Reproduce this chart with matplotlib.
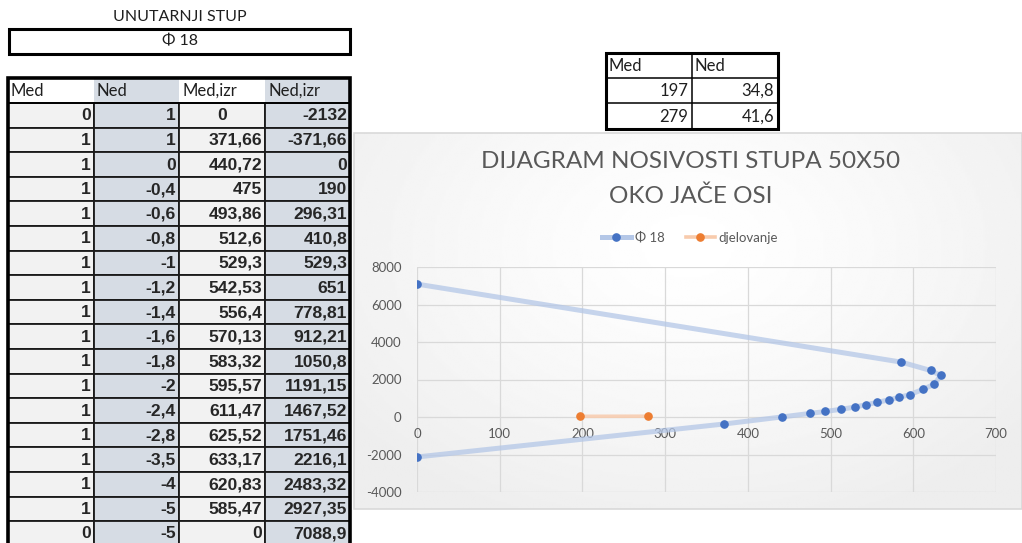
import numpy as np
import matplotlib.pyplot as plt
from matplotlib.patches import Rectangle
from matplotlib.lines import Line2D

# interakcijski dijagram, unutarnji stup, armatura fi 18
med = [0, 1, 1, 1, 1, 1, 1, 1, 1, 1, 1, 1, 1, 1, 1, 1, 1, 0]
ned = [1, 1, 0, -0.4, -0.6, -0.8, -1, -1.2, -1.4, -1.6, -1.8, -2, -2.4, -2.8, -3.5, -4, -5, -5]
med_izr = [0, 371.66, 440.72, 475, 493.86, 512.6, 529.3, 542.53, 556.4, 570.13,
           583.32, 595.57, 611.47, 625.52, 633.17, 620.83, 585.47, 0]
ned_izr = [-2132, -371.66, 0, 190, 296.31, 410.8, 529.3, 651, 778.81, 912.21,
           1050.8, 1191.15, 1467.52, 1751.46, 2216.1, 2483.32, 2927.35, 7088.9]

# djelovanje
djel_med = [197, 279]
djel_ned = [34.8, 41.6]

zaglavlje = ["Med", "Ned", "Med,izr", "Ned,izr"]

W, H = 1022, 543
SIVA = "#f2f2f2"
PLAVO_SIVA = "#d6dce4"
TEKST = "#595959"
CAL = ["Lato", "DejaVu Sans"]

plt.rcParams["axes.unicode_minus"] = False


def fmt(v):
    return str(v).replace(".", ",")


fig = plt.figure(figsize=(W / 100, H / 100), dpi=100)
fig.patch.set_facecolor("white")

# platno u pikselima za tablice i pozadinu grafa
pl = fig.add_axes([0, 0, 1, 1], zorder=0)
pl.set_xlim(0, W)
pl.set_ylim(H, 0)
pl.axis("off")

# --- naslov i fi 18 ---
pl.text(180, 17, "UNUTARNJI STUP", ha="center", va="center", fontsize=11.5,
        family=CAL, color="#1f1f1f")
pl.add_patch(Rectangle((9, 29), 341, 25, fill=False, ec="black", lw=2.2))
pl.text(180, 41.5, "Φ 18", ha="center", va="center", fontsize=11.5,
        family=CAL, color="#1f1f1f")

# --- glavna tablica ---
kx = [8, 94, 179, 265, 350]
y_zag, h_zag = 78, 25
y0, rh = 103, 24.6
boje_zag = ["white", PLAVO_SIVA, "white", PLAVO_SIVA]
boje_pod = [SIVA, PLAVO_SIVA, SIVA, PLAVO_SIVA]
stupci = [med, ned, med_izr, ned_izr]

for j in range(4):
    pl.add_patch(Rectangle((kx[j], y_zag), kx[j + 1] - kx[j], h_zag,
                           fc=boje_zag[j], ec="none"))
    pl.text(kx[j] + 3, y_zag + h_zag / 2 + 0.5, zaglavlje[j], ha="left",
            va="center", fontsize=12, family=CAL, color="#1f1f1f")

for i in range(len(med)):
    yt = y0 + i * rh
    for j in range(4):
        pl.add_patch(Rectangle((kx[j], yt), kx[j + 1] - kx[j], rh,
                               fc=boje_pod[j], ec="#1a1a1a", lw=1.3))
        v = stupci[j][i]
        if j == 2 and i == 0:
            pl.text((kx[j] + kx[j + 1]) / 2, yt + rh / 2 + 0.5, fmt(v),
                    ha="center", va="center", fontsize=12.6, weight="bold",
                    family="Liberation Sans", color="#262626")
        else:
            pl.text(kx[j + 1] - 3, yt + rh / 2 + 0.5, fmt(v), ha="right",
                    va="center", fontsize=12.6, weight="bold",
                    family="Liberation Sans", color="#262626")

pl.plot([8, 350], [y0, y0], color="black", lw=1.3)
pl.plot([8, 8, 350, 350], [H + 5, y_zag, y_zag, H + 5], color="black", lw=2.6,
        solid_joinstyle="miter")

# --- mala tablica djelovanja ---
mx = [606, 692, 778]
my = [53, 78, 103, 129]
for j in range(2):
    pl.text(mx[j] + 3, (my[0] + my[1]) / 2 + 0.5, zaglavlje[j], ha="left",
            va="center", fontsize=12, family=CAL, color="#1f1f1f")
for i, (a, b) in enumerate(zip(djel_med, djel_ned)):
    yc = (my[i + 1] + my[i + 2]) / 2 + 0.5
    pl.text(mx[1] - 4, yc, fmt(a), ha="right", va="center", fontsize=12,
            family=CAL, color="#1f1f1f")
    pl.text(mx[2] - 4, yc, fmt(b), ha="right", va="center", fontsize=12,
            family=CAL, color="#1f1f1f")
for yy in my[1:-1]:
    pl.plot([mx[0], mx[2]], [yy, yy], color="black", lw=1.1)
pl.plot([mx[1], mx[1]], [my[0], my[-1]], color="black", lw=1.1)
pl.add_patch(Rectangle((mx[0], my[0]), mx[2] - mx[0], my[-1] - my[0],
                       fill=False, ec="black", lw=2.2))

# --- pozadina grafa (radijalni gradijent) ---
gx, gy = np.meshgrid(np.linspace(0, 1, 300), np.linspace(0, 1, 200))
r = np.sqrt(((gx - 0.5) / 0.65) ** 2 + ((gy - 0.3) / 0.8) ** 2)
sjena = 1 - 0.07 * np.clip(r, 0, 1) ** 1.3
pl.imshow(sjena, cmap="gray", vmin=0, vmax=1, extent=[354, W, 509, 133],
          aspect="auto", interpolation="bilinear", zorder=0)
pl.add_patch(Rectangle((354, 133), W - 354, 376, fill=False, ec="#d9d9d9",
                       lw=1.2, zorder=1))

fig.text(691 / W, 1 - 162 / H, "DIJAGRAM NOSIVOSTI STUPA 50X50", ha="center",
         va="center", fontsize=17.5, family=CAL, color=TEKST)
fig.text(691 / W, 1 - 196 / H, "OKO JAČE OSI", ha="center", va="center",
         fontsize=17.5, family=CAL, color=TEKST)

# --- graf ---
ax = fig.add_axes([417 / W, 1 - 492 / H, (996 - 417) / W, (492 - 267) / H],
                  zorder=2)
ax.patch.set_alpha(0)
ax.plot(med_izr, ned_izr, color="#b4c7e7", lw=3.6, alpha=0.75,
        solid_capstyle="round", zorder=2)
ax.plot(med_izr, ned_izr, ls="none", marker="o", ms=5.2, color="#4472c4",
        zorder=3)
ax.plot(djel_med, djel_ned, color="#f8cbad", lw=2.6, alpha=0.85, zorder=2)
ax.plot(djel_med, djel_ned, ls="none", marker="o", ms=5.2, color="#ed7d31",
        zorder=3)

ax.set_xlim(0, 700)
ax.set_ylim(-4000, 8000)
ax.set_xticks(range(0, 701, 100))
ax.set_yticks(range(-4000, 8001, 2000))
ax.grid(True, color="#d9d9d9", lw=0.9)
ax.set_axisbelow(True)
for s in ["top", "right", "left"]:
    ax.spines[s].set_visible(False)
ax.spines["bottom"].set_position(("data", 0))
ax.spines["bottom"].set_visible(False)
ax.tick_params(axis="both", length=0, colors=TEKST, labelsize=9.5)
ax.tick_params(axis="x", pad=8)
ax.tick_params(axis="y", pad=11)
for t in ax.get_xticklabels() + ax.get_yticklabels():
    t.set_family(CAL)

ruke = [Line2D([], [], color="#b4c7e7", lw=3.6, marker="o", ms=5.2,
               mfc="#4472c4", mec="#4472c4"),
        Line2D([], [], color="#f8cbad", lw=2.6, marker="o", ms=5.2,
               mfc="#ed7d31", mec="#ed7d31")]
leg = fig.legend(ruke, ["Φ 18", "djelovanje"], loc="center", ncol=2,
                 bbox_to_anchor=(690 / W, 1 - 238 / H), frameon=False,
                 handlelength=2.2, handletextpad=0.3,
                 columnspacing=1.6, prop={"family": CAL, "size": 9.5})
for t in leg.get_texts():
    t.set_color(TEKST)

fig.savefig("out.png", dpi=100)
